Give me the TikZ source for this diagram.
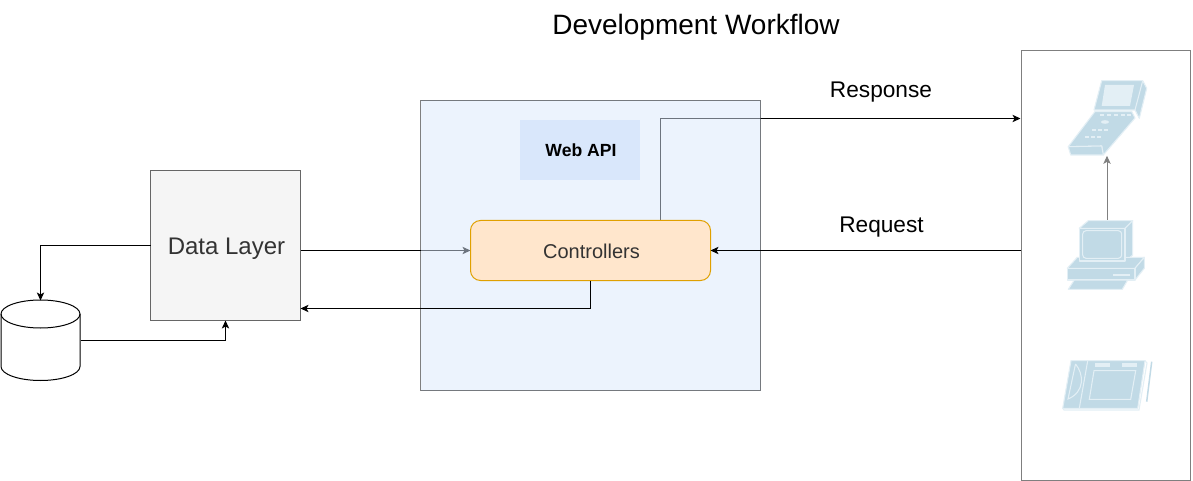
\documentclass[tikz,border=0pt]{standalone}
\usepackage{fontspec}
\setmainfont{Liberation Sans}
\usetikzlibrary{arrows.meta}
\pgfdeclarelayer{under}
\pgfsetlayers{under,main}
\definecolor{icoD}{HTML}{C1DAE6}
\definecolor{icoL}{HTML}{E3EFF5}
\definecolor{cApi}{HTML}{DAE8FC}
\definecolor{cLabel}{HTML}{D9E7FB}
\definecolor{cCtl}{HTML}{FFE6CC}
\definecolor{cCtlS}{HTML}{E0A000}
\definecolor{cDl}{HTML}{F5F5F5}
\definecolor{cDlS}{HTML}{666666}
\definecolor{cTxt}{HTML}{333333}
\tikzset{
  x=.75pt, y=-.75pt,
  shapebase/.style={rectangle, inner sep=0pt, outer sep=0pt, line width=.75pt},
  conn/.style={draw=black, line width=.75pt, -{Stealth[length=6pt,width=5.5pt,inset=1.5pt]}},
  apibox/.style={shapebase, minimum width=255pt, minimum height=217.5pt, fill=cApi, draw=black, fill opacity=.5, draw opacity=.5},
  apilabel/.style={shapebase, minimum width=90pt, minimum height=45pt, fill=cLabel, text height=8.6pt, text depth=0pt, font=\fontsize{13.2pt}{15pt}\selectfont\bfseries},
  ctlbox/.style={shapebase, rounded corners=7.5pt, minimum width=180pt, minimum height=45pt, fill=cCtl, draw=cCtlS, text=cTxt, text height=12pt, text depth=0pt, font=\fontsize{15pt}{18pt}\selectfont},
  dlbox/.style={shapebase, minimum width=112.5pt, minimum height=112.5pt, fill=cDl, draw=cDlS, text=cTxt, text height=13.5pt, text depth=0pt, font=\fontsize{18pt}{21pt}\selectfont},
  panelbox/.style={shapebase, minimum width=126.75pt, minimum height=322.5pt, fill=white, draw=black, fill opacity=.5, draw opacity=.5},
  cyl/.style={shapebase, minimum width=60pt, minimum height=60pt},
  icon/.style={shapebase},
  tag/.style={shapebase, font=\fontsize{17pt}{20pt}\selectfont, text=black},
  titletxt/.style={shapebase, font=\fontsize{21pt}{24pt}\selectfont, text=black},
  ic/.style={fill=icoD, draw=icoL, line width=.8pt, line join=round},
  icl/.style={fill=icoL, draw=none},
}
\begin{document}
\begin{tikzpicture}
\useasboundingbox (0,0) rectangle (1193,481);
\begin{pgfonlayer}{under}
  \fill[white] (0,0) rectangle (1193,481);
\end{pgfonlayer}

\node[titletxt] (title) at (696,27) {Development Workflow};
\node[tag] (resp) at (881,92) {Response};
\node[tag] (req) at (881.5,227) {Request};

\node[apibox] (api) at (590.5,245.5) {};
\node[apilabel] (apil) at (580,150.5) {\hspace*{1.5pt}Web API};
\node[ctlbox] (ctl) at (590.5,250.5) {\hspace*{1.5pt}Controllers};
\node[dlbox] (dl) at (225.5,245.5) {\hspace*{1.5pt}Data Layer};
\node[panelbox] (panel) at (1105.5,265.5) {};

% database
\node[cyl] (db) at (40.5,340.5) {};
\draw[black, line width=.75pt, fill=white]
  (1,314) arc[start angle=180, end angle=360, x radius=39.5, y radius=14]
  -- (80,366.5) arc[start angle=0, end angle=180, x radius=39.5, y radius=14] -- cycle;
\draw[black, line width=.75pt] (1,314) arc[start angle=180, end angle=0, x radius=39.5, y radius=14];

% anchors for the icons
\node[icon, minimum width=59pt, minimum height=56pt] (mobile) at (1107,118.5) {};
\node[icon, minimum width=58pt, minimum height=52pt] (pc) at (1107,255) {};
\node[icon, minimum width=67pt, minimum height=37pt] (tablet) at (1107,385) {};

% mobile icon
\path[ic] (1101.7,80.7) -- (1142.7,80.7) -- (1146.7,88.3) -- (1139.3,118.3) -- (1135,110) -- (1094,110) -- cycle;
\draw[icoL, line width=.8pt] (1142.7,80.7) -- (1135,110);
\path[icl] (1105,85) -- (1134,85) -- (1130,106) -- (1101.7,106) -- cycle;
\path[ic] (1095,111.5) -- (1131.7,111.5) -- (1135,118) -- (1103.3,155) -- (1101.7,146) -- (1068.3,146.7) -- cycle;
\path[ic] (1068.3,146.7) -- (1101.7,146) -- (1103.3,155) -- (1070.7,155) -- cycle;
\foreach \k in {1100,1107,1114,1121,1127}
  \fill[icoL] (\k,114.5) rectangle ++(4,1.8);
\fill[icoL] (1105,122) ellipse[x radius=4, y radius=1.8];
\foreach \k in {1092,1098,1104}
  \fill[icoL] (\k,129) rectangle ++(3.5,2);
\foreach \k in {1085,1091,1097}
  \fill[icoL] (\k,135.7) rectangle ++(3.5,2);

% desktop icon
\path[ic] (1079.3,228.3) -- (1088.3,220.7) -- (1132.7,220.7) -- (1125,228.3) -- cycle;
\path[ic] (1125,228.3) -- (1132.7,220.7) -- (1132.7,255) -- (1125,261.7) -- cycle;
\path[ic] (1067.3,268.3) -- (1077.3,257.3) -- (1144.3,257.3) -- (1135,268.3) -- cycle;
\path[ic] (1135,268.3) -- (1144.3,257.3) -- (1144.3,268.3) -- (1135,280) -- cycle;
\path[ic] (1067.3,268.3) rectangle (1135,280);
\path[ic] (1079.3,228.3) rectangle (1125,261);
\path[ic, rounded corners=2.5pt] (1082.7,230.7) rectangle (1121.7,258.3);
\fill[icoL] (1113,273.6) rectangle (1130,275.6);
\path[ic] (1074.3,280) -- (1127.7,280) -- (1122.3,289.3) -- (1068.3,289.3) -- cycle;

% tablet icon
\path[ic] (1071,360.7) -- (1145,360.7) -- (1137.7,408.3) -- (1062.7,408.3) -- cycle;
\draw[icoL, line width=.8pt] (1145,360.7) -- (1147,363) -- (1139,410) -- (1064,410) -- (1062.7,408.3);
\draw[icoL, line width=.8pt] (1087.7,360.7) -- (1079.3,408.3);
\draw[icoL, line width=.8pt] (1075.5,364) .. controls (1084,374) and (1085,392) .. (1068,399) -- (1075.5,364);
\draw[icoL, line width=.8pt] (1094,370.7) -- (1135.7,370.7) -- (1130.7,399.3) -- (1089.3,399.3) -- cycle;
\fill[icoL] (1095,363.3) rectangle (1110,366.7);
\fill[icoL] (1121.7,363.3) rectangle (1136.7,366.7);
\draw[icoD, line width=1.1pt] (1151.7,361.7) -- (1146.7,401.7);

% connectors under the translucent boxes
\coordinate (respOut) at (660.5,220);
\coordinate (panelIn) at (1020.5,118.5);
\begin{pgfonlayer}{under}
  \draw[conn] (ctl.west -| dl.east) -- (ctl.west);
  \draw[conn] (respOut) |- (panelIn);
  \draw[conn] (pc.north) -- (mobile.south);
\end{pgfonlayer}

% connectors on top
\coordinate (dlIn) at (300.5,308.5);
\draw[conn] (panel.west |- ctl.east) -- (ctl.east);
\draw[conn] (ctl.south) |- (dlIn);
\draw[conn] (dl.west) -| (db.north);
\draw[conn] (db.east) -| (dl.south);
\end{tikzpicture}
\end{document}
